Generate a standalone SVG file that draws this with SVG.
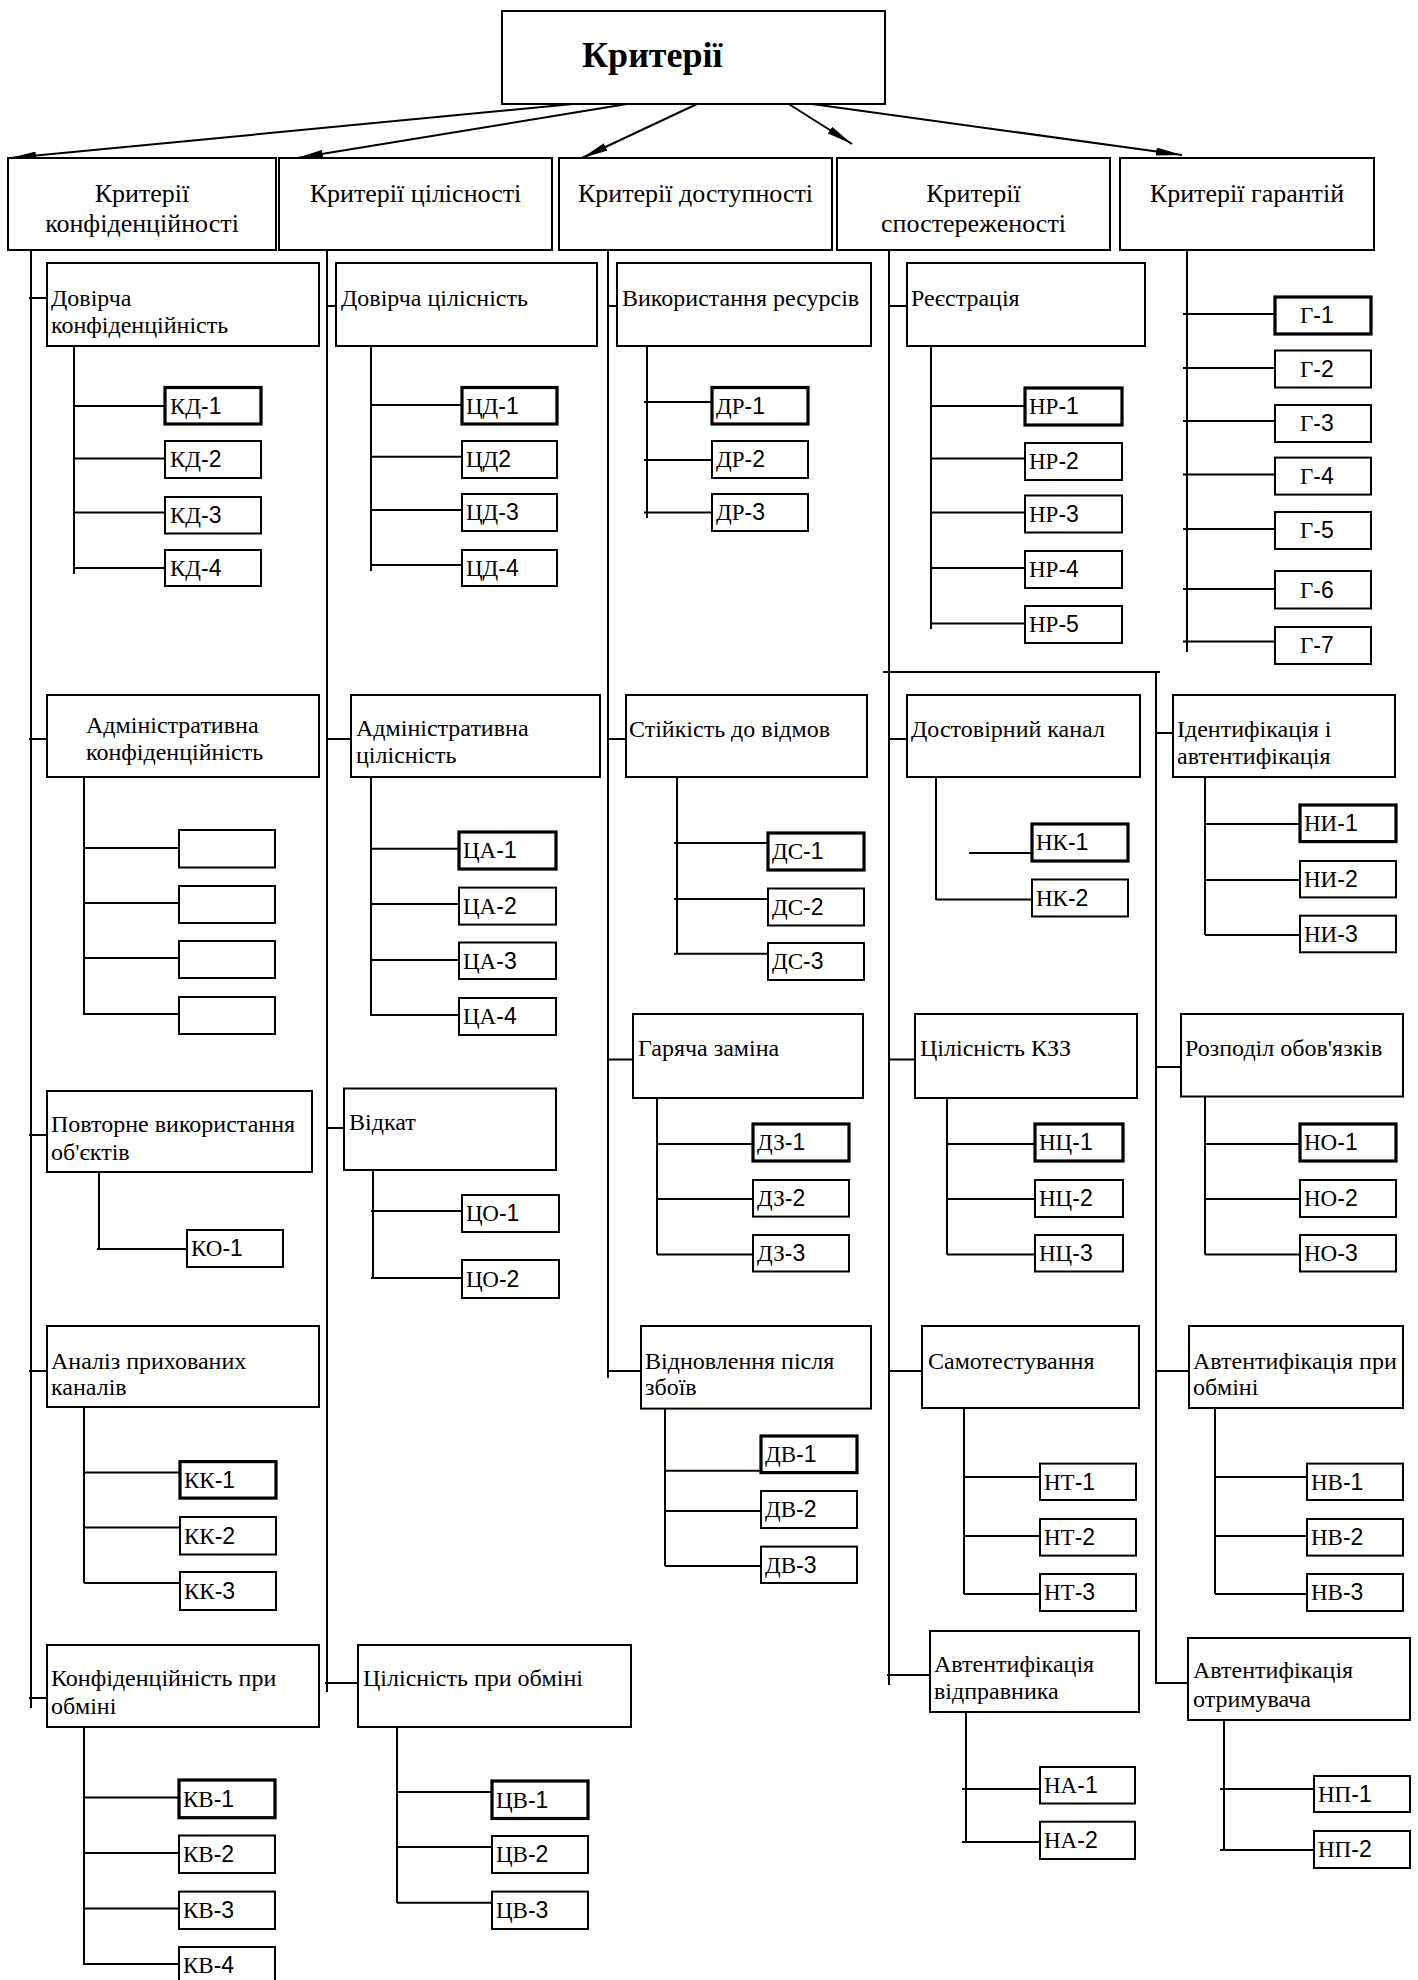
<svg xmlns="http://www.w3.org/2000/svg" width="1418" height="1980" viewBox="0 0 1418 1980">
<style>
rect{fill:#fff;stroke:#000;stroke-width:2}
rect.k{stroke-width:3.2}
#connectors line{stroke:#000;stroke-width:2}
text{fill:#000;font-family:"Liberation Serif","Times New Roman",serif}
.t0{font-size:36px;font-weight:bold}
.t1{font-size:26px;text-anchor:middle}
.t2{font-size:24px}
.lf{font-family:"Liberation Sans",Arial,sans-serif;font-size:23px}
.s{font-family:"Liberation Serif","Times New Roman",serif}
</style>
<defs>
<marker id="ah" viewBox="0 0 26 8" markerWidth="26" markerHeight="8" refX="26" refY="4" markerUnits="userSpaceOnUse" orient="auto"><path d="M0,0 L26,4 L0,8 z" fill="#000"/></marker>
</defs>
<rect x="0" y="0" width="1418" height="1980" style="fill:#fff;stroke:none"/>

<g id="connectors">
<line x1="573" y1="104" x2="10" y2="158" marker-end="url(#ah)"/>
<line x1="627" y1="104" x2="297" y2="158" marker-end="url(#ah)"/>
<line x1="697" y1="104" x2="582" y2="158" marker-end="url(#ah)"/>
<line x1="765" y1="89" x2="852" y2="144" marker-end="url(#ah)"/>
<line x1="812" y1="104" x2="1182" y2="155" marker-end="url(#ah)"/>
<!-- col1 -->
<line x1="31" y1="247" x2="31" y2="1708"/>
<line x1="29" y1="298" x2="53" y2="298"/>
<line x1="29" y1="739" x2="54" y2="739"/>
<line x1="29" y1="1135" x2="54" y2="1135"/>
<line x1="29" y1="1371" x2="54" y2="1371"/>
<line x1="29" y1="1698" x2="54" y2="1698"/>
<line x1="74" y1="343" x2="74" y2="574"/>
<line x1="74" y1="406" x2="168" y2="406"/>
<line x1="74" y1="458.5" x2="168" y2="458.5"/>
<line x1="74" y1="512.5" x2="168" y2="512.5"/>
<line x1="74" y1="568" x2="168" y2="568"/>
<line x1="84" y1="777" x2="84" y2="1015"/>
<line x1="84" y1="848" x2="182" y2="848"/>
<line x1="84" y1="903" x2="182" y2="903"/>
<line x1="84" y1="958" x2="182" y2="958"/>
<line x1="84" y1="1014" x2="182" y2="1014"/>
<line x1="99" y1="1172" x2="99" y2="1249"/>
<line x1="97" y1="1249" x2="190" y2="1249"/>
<line x1="84" y1="1407" x2="84" y2="1583"/>
<line x1="84" y1="1472.6" x2="183" y2="1472.6"/>
<line x1="84" y1="1527.6" x2="183" y2="1527.6"/>
<line x1="84" y1="1583" x2="183" y2="1583"/>
<line x1="84" y1="1727" x2="84" y2="1965"/>
<line x1="84" y1="1797.5" x2="182" y2="1797.5"/>
<line x1="84" y1="1853" x2="182" y2="1853"/>
<line x1="84" y1="1908.6" x2="182" y2="1908.6"/>
<line x1="84" y1="1964" x2="182" y2="1964"/>
<!-- col2 -->
<line x1="327" y1="247" x2="327" y2="1692"/>
<line x1="327" y1="306" x2="340" y2="306"/>
<line x1="327" y1="739" x2="358" y2="739"/>
<line x1="327" y1="1128" x2="348" y2="1128"/>
<line x1="325" y1="1683" x2="365" y2="1683"/>
<line x1="371" y1="343" x2="371" y2="571"/>
<line x1="371" y1="405" x2="465" y2="405"/>
<line x1="371" y1="456.7" x2="465" y2="456.7"/>
<line x1="371" y1="510" x2="465" y2="510"/>
<line x1="371" y1="565" x2="465" y2="565"/>
<line x1="371" y1="777" x2="371" y2="1016"/>
<line x1="371" y1="848.75" x2="462" y2="848.75"/>
<line x1="371" y1="904" x2="462" y2="904"/>
<line x1="371" y1="960" x2="462" y2="960"/>
<line x1="371" y1="1015" x2="462" y2="1015"/>
<line x1="373" y1="1170" x2="373" y2="1279"/>
<line x1="371" y1="1211" x2="465" y2="1211"/>
<line x1="371" y1="1278" x2="465" y2="1278"/>
<line x1="397" y1="1727" x2="397" y2="1903"/>
<line x1="397" y1="1792" x2="495" y2="1792"/>
<line x1="397" y1="1847" x2="495" y2="1847"/>
<line x1="397" y1="1902.7" x2="495" y2="1902.7"/>
<!-- col3 -->
<line x1="608" y1="247" x2="608" y2="1378"/>
<line x1="608" y1="306" x2="623" y2="306"/>
<line x1="608" y1="739" x2="633" y2="739"/>
<line x1="608" y1="1059.5" x2="639" y2="1059.5"/>
<line x1="608" y1="1371" x2="647" y2="1371"/>
<line x1="647" y1="343" x2="647" y2="518"/>
<line x1="644" y1="402" x2="715" y2="402"/>
<line x1="644" y1="460" x2="715" y2="460"/>
<line x1="644" y1="512.5" x2="715" y2="512.5"/>
<line x1="677" y1="777" x2="677" y2="954"/>
<line x1="674" y1="843" x2="771" y2="843"/>
<line x1="674" y1="899" x2="771" y2="899"/>
<line x1="674" y1="953.7" x2="771" y2="953.7"/>
<line x1="657" y1="1098" x2="657" y2="1254.5"/>
<line x1="657" y1="1144" x2="756" y2="1144"/>
<line x1="657" y1="1199" x2="756" y2="1199"/>
<line x1="657" y1="1254.5" x2="756" y2="1254.5"/>
<line x1="665" y1="1408" x2="665" y2="1566"/>
<line x1="665" y1="1470.7" x2="763" y2="1470.7"/>
<line x1="665" y1="1511" x2="763" y2="1511"/>
<line x1="665" y1="1566" x2="763" y2="1566"/>
<!-- col4 -->
<line x1="889" y1="247" x2="889" y2="1685"/>
<line x1="888" y1="306" x2="913" y2="306"/>
<line x1="889" y1="739" x2="914" y2="739"/>
<line x1="889" y1="1059.5" x2="922" y2="1059.5"/>
<line x1="888" y1="1371" x2="928" y2="1371"/>
<line x1="887" y1="1675" x2="936" y2="1675"/>
<line x1="931" y1="343" x2="931" y2="629"/>
<line x1="931" y1="406" x2="1027" y2="406"/>
<line x1="931" y1="458.5" x2="1027" y2="458.5"/>
<line x1="931" y1="512.5" x2="1027" y2="512.5"/>
<line x1="931" y1="568" x2="1027" y2="568"/>
<line x1="931" y1="623.6" x2="1027" y2="623.6"/>
<line x1="883" y1="672" x2="1160" y2="672"/>
<line x1="936" y1="777" x2="936" y2="900"/>
<line x1="936" y1="899.6" x2="1035" y2="899.6"/>
<line x1="969" y1="853" x2="1070" y2="853"/>
<line x1="947" y1="1098" x2="947" y2="1254.5"/>
<line x1="947" y1="1144" x2="1038" y2="1144"/>
<line x1="947" y1="1199" x2="1038" y2="1199"/>
<line x1="947" y1="1254.5" x2="1038" y2="1254.5"/>
<line x1="964" y1="1408" x2="964" y2="1594"/>
<line x1="964" y1="1477" x2="1043" y2="1477"/>
<line x1="964" y1="1536" x2="1043" y2="1536"/>
<line x1="964" y1="1594" x2="1043" y2="1594"/>
<line x1="966" y1="1712" x2="966" y2="1842"/>
<line x1="962" y1="1789" x2="1043" y2="1789"/>
<line x1="962" y1="1842" x2="1043" y2="1842"/>
<!-- col5 -->
<line x1="1187" y1="247" x2="1187" y2="652"/>
<line x1="1183" y1="314" x2="1279" y2="314"/>
<line x1="1183" y1="368" x2="1279" y2="368"/>
<line x1="1183" y1="421" x2="1279" y2="421"/>
<line x1="1183" y1="474.6" x2="1279" y2="474.6"/>
<line x1="1183" y1="529" x2="1279" y2="529"/>
<line x1="1183" y1="589" x2="1279" y2="589"/>
<line x1="1183" y1="641.5" x2="1279" y2="641.5"/>
<line x1="1156" y1="672" x2="1156" y2="1683"/>
<line x1="1155" y1="733" x2="1177" y2="733"/>
<line x1="1155" y1="1067" x2="1187" y2="1067"/>
<line x1="1155" y1="1371" x2="1195" y2="1371"/>
<line x1="1155" y1="1683" x2="1195" y2="1683"/>
<line x1="1205" y1="777" x2="1205" y2="935"/>
<line x1="1205" y1="824" x2="1303" y2="824"/>
<line x1="1205" y1="880" x2="1303" y2="880"/>
<line x1="1205" y1="935" x2="1303" y2="935"/>
<line x1="1205" y1="1096" x2="1205" y2="1254.5"/>
<line x1="1205" y1="1144" x2="1303" y2="1144"/>
<line x1="1205" y1="1199" x2="1303" y2="1199"/>
<line x1="1205" y1="1254.5" x2="1303" y2="1254.5"/>
<line x1="1215" y1="1408" x2="1215" y2="1594"/>
<line x1="1215" y1="1477" x2="1310" y2="1477"/>
<line x1="1215" y1="1536" x2="1310" y2="1536"/>
<line x1="1215" y1="1594" x2="1310" y2="1594"/>
<line x1="1224" y1="1720" x2="1224" y2="1850"/>
<line x1="1220" y1="1789" x2="1317" y2="1789"/>
<line x1="1220" y1="1850" x2="1317" y2="1850"/>
</g>

<g id="root"><rect x="502" y="11" width="383" height="93"/><text class="t0" x="582" y="67">Критерії</text></g>

<g id="c-conf"><rect x="8" y="158" width="268" height="92"/><text class="t1" x="142" y="202">Критерії</text><text class="t1" x="142" y="232">конфіденційності</text></g>
<g id="c-integ"><rect x="279" y="158" width="273" height="92"/><text class="t1" x="415.5" y="202">Критерії цілісності</text></g>
<g id="c-avail"><rect x="559" y="158" width="273" height="92"/><text class="t1" x="695.5" y="202">Критерії доступності</text></g>
<g id="c-obs"><rect x="837" y="158" width="273" height="92"/><text class="t1" x="973.5" y="202">Критерії</text><text class="t1" x="973.5" y="232">спостереженості</text></g>
<g id="c-guar"><rect x="1120" y="158" width="254" height="92"/><text class="t1" x="1247" y="202">Критерії гарантій</text></g>

<!-- column 1 -->
<g id="kd"><rect x="47" y="263" width="272" height="83"/><text class="t2" x="51" y="306">Довірча</text><text class="t2" x="51" y="333">конфіденційність</text></g>
<g id="kd-1"><rect class="k" x="165" y="387.5" width="96" height="36.5"/><text class="lf" x="170" y="413.5"><tspan class="s">КД</tspan>-1</text></g>
<g id="kd-2"><rect x="165" y="441" width="96" height="37"/><text class="lf" x="170" y="467"><tspan class="s">КД</tspan>-2</text></g>
<g id="kd-3"><rect x="165" y="497" width="96" height="36.5"/><text class="lf" x="170" y="523"><tspan class="s">КД</tspan>-3</text></g>
<g id="kd-4"><rect x="165" y="550" width="96" height="36"/><text class="lf" x="170" y="576"><tspan class="s">КД</tspan>-4</text></g>

<g id="ka"><rect x="47" y="695" width="272" height="82"/><text class="t2" x="86" y="733">Адміністративна</text><text class="t2" x="86" y="760">конфіденційність</text></g>
<g id="ka-1"><rect x="179" y="830" width="96" height="37.5"/></g>
<g id="ka-2"><rect x="179" y="886" width="96" height="37"/></g>
<g id="ka-3"><rect x="179" y="941" width="96" height="37"/></g>
<g id="ka-4"><rect x="179" y="997" width="96" height="37"/></g>

<g id="ko"><rect x="47" y="1091" width="265" height="81"/><text class="t2" x="51" y="1132">Повторне використання</text><text class="t2" x="51" y="1160">об'єктів</text></g>
<g id="ko-1"><rect x="187" y="1230" width="96" height="37"/><text class="lf" x="191" y="1256"><tspan class="s">КО</tspan>-1</text></g>

<g id="kk"><rect x="47" y="1326" width="272" height="81"/><text class="t2" x="51" y="1369">Аналіз прихованих</text><text class="t2" x="51" y="1395">каналів</text></g>
<g id="kk-1"><rect class="k" x="180" y="1461.6" width="96" height="36.5"/><text class="lf" x="184" y="1488"><tspan class="s">КК</tspan>-1</text></g>
<g id="kk-2"><rect x="180" y="1517" width="96" height="37.5"/><text class="lf" x="184" y="1543.5"><tspan class="s">КК</tspan>-2</text></g>
<g id="kk-3"><rect x="180" y="1572" width="96" height="38"/><text class="lf" x="184" y="1599"><tspan class="s">КК</tspan>-3</text></g>

<g id="kv"><rect x="47" y="1645" width="272" height="82"/><text class="t2" x="51" y="1686">Конфіденційність при</text><text class="t2" x="51" y="1714">обміні</text></g>
<g id="kv-1"><rect class="k" x="179" y="1780" width="96" height="37.7"/><text class="lf" x="183" y="1807"><tspan class="s">КВ</tspan>-1</text></g>
<g id="kv-2"><rect x="179" y="1835.5" width="96" height="37.5"/><text class="lf" x="183" y="1862"><tspan class="s">КВ</tspan>-2</text></g>
<g id="kv-3"><rect x="179" y="1891.6" width="96" height="37.4"/><text class="lf" x="183" y="1918"><tspan class="s">КВ</tspan>-3</text></g>
<g id="kv-4"><rect x="179" y="1947" width="96" height="40"/><text class="lf" x="183" y="1973"><tspan class="s">КВ</tspan>-4</text></g>

<!-- column 2 -->
<g id="cd"><rect x="336" y="263" width="261" height="83"/><text class="t2" x="341" y="306">Довірча цілісність</text></g>
<g id="cd-1"><rect class="k" x="462" y="387.5" width="95" height="36.5"/><text class="lf" x="466" y="413.5"><tspan class="s">ЦД</tspan>-1</text></g>
<g id="cd-2"><rect x="462" y="441" width="95" height="37"/><text class="lf" x="466" y="467"><tspan class="s">ЦД</tspan>2</text></g>
<g id="cd-3"><rect x="462" y="494" width="95" height="37"/><text class="lf" x="466" y="520"><tspan class="s">ЦД</tspan>-3</text></g>
<g id="cd-4"><rect x="462" y="550" width="95" height="36"/><text class="lf" x="466" y="576"><tspan class="s">ЦД</tspan>-4</text></g>

<g id="ca"><rect x="351" y="695" width="249" height="82"/><text class="t2" x="356" y="736">Адміністративна</text><text class="t2" x="356" y="763">цілісність</text></g>
<g id="ca-1"><rect class="k" x="459" y="832" width="97" height="37"/><text class="lf" x="463" y="858"><tspan class="s">ЦА</tspan>-1</text></g>
<g id="ca-2"><rect x="459" y="887.6" width="97" height="37"/><text class="lf" x="463" y="913.6"><tspan class="s">ЦА</tspan>-2</text></g>
<g id="ca-3"><rect x="459" y="942.5" width="97" height="36.5"/><text class="lf" x="463" y="968.5"><tspan class="s">ЦА</tspan>-3</text></g>
<g id="ca-4"><rect x="459" y="998" width="97" height="37"/><text class="lf" x="463" y="1024"><tspan class="s">ЦА</tspan>-4</text></g>

<g id="co"><rect x="344" y="1088.5" width="212" height="81.5"/><text class="t2" x="349" y="1130">Відкат</text></g>
<g id="co-1"><rect x="462" y="1195" width="97" height="37"/><text class="lf" x="466" y="1221"><tspan class="s">ЦО</tspan>-1</text></g>
<g id="co-2"><rect x="462" y="1260" width="97" height="38"/><text class="lf" x="466" y="1287"><tspan class="s">ЦО</tspan>-2</text></g>

<g id="cv"><rect x="358" y="1645" width="273" height="82"/><text class="t2" x="363" y="1686">Цілісність при обміні</text></g>
<g id="cv-1"><rect class="k" x="492" y="1781" width="96" height="37.5"/><text class="lf" x="496" y="1807.5"><tspan class="s">ЦВ</tspan>-1</text></g>
<g id="cv-2"><rect x="492" y="1836" width="96" height="37"/><text class="lf" x="496" y="1862"><tspan class="s">ЦВ</tspan>-2</text></g>
<g id="cv-3"><rect x="492" y="1891.6" width="96" height="37.4"/><text class="lf" x="496" y="1918"><tspan class="s">ЦВ</tspan>-3</text></g>

<!-- column 3 -->
<g id="dr"><rect x="617" y="263" width="254" height="83"/><text class="t2" x="622" y="306">Використання ресурсів</text></g>
<g id="dr-1"><rect class="k" x="712" y="387.5" width="96" height="36.5"/><text class="lf" x="716" y="413.5"><tspan class="s">ДР</tspan>-1</text></g>
<g id="dr-2"><rect x="712" y="441" width="96" height="37"/><text class="lf" x="716" y="467"><tspan class="s">ДР</tspan>-2</text></g>
<g id="dr-3"><rect x="712" y="494" width="96" height="37"/><text class="lf" x="716" y="520"><tspan class="s">ДР</tspan>-3</text></g>

<g id="ds"><rect x="626" y="695" width="241" height="82"/><text class="t2" x="629" y="737">Стійкість до відмов</text></g>
<g id="ds-1"><rect class="k" x="768" y="833" width="96" height="37"/><text class="lf" x="772" y="859"><tspan class="s">ДС</tspan>-1</text></g>
<g id="ds-2"><rect x="768" y="888.5" width="96" height="37"/><text class="lf" x="772" y="914.5"><tspan class="s">ДС</tspan>-2</text></g>
<g id="ds-3"><rect x="768" y="943" width="96" height="37"/><text class="lf" x="772" y="969"><tspan class="s">ДС</tspan>-3</text></g>

<g id="dz"><rect x="633" y="1014" width="230" height="84"/><text class="t2" x="638" y="1056">Гаряча заміна</text></g>
<g id="dz-1"><rect class="k" x="753" y="1124" width="96" height="37"/><text class="lf" x="757" y="1150"><tspan class="s">ДЗ</tspan>-1</text></g>
<g id="dz-2"><rect x="753" y="1180" width="96" height="36.6"/><text class="lf" x="757" y="1206"><tspan class="s">ДЗ</tspan>-2</text></g>
<g id="dz-3"><rect x="753" y="1235" width="96" height="36.5"/><text class="lf" x="757" y="1261"><tspan class="s">ДЗ</tspan>-3</text></g>

<g id="dv"><rect x="641" y="1326" width="230" height="82.6"/><text class="t2" x="645" y="1369">Відновлення після</text><text class="t2" x="645" y="1395">збоїв</text></g>
<g id="dv-1"><rect class="k" x="761" y="1436" width="96" height="36.6"/><text class="lf" x="765" y="1462"><tspan class="s">ДВ</tspan>-1</text></g>
<g id="dv-2"><rect x="761" y="1491" width="96" height="37"/><text class="lf" x="765" y="1517"><tspan class="s">ДВ</tspan>-2</text></g>
<g id="dv-3"><rect x="761" y="1546.6" width="96" height="36.4"/><text class="lf" x="765" y="1572.6"><tspan class="s">ДВ</tspan>-3</text></g>

<!-- column 4 -->
<g id="nr"><rect x="907" y="263" width="238" height="83"/><text class="t2" x="911" y="306">Реєстрація</text></g>
<g id="nr-1"><rect class="k" x="1025" y="388" width="97" height="37"/><text class="lf" x="1029" y="414"><tspan class="s">НР</tspan>-1</text></g>
<g id="nr-2"><rect x="1025" y="443" width="97" height="37"/><text class="lf" x="1029" y="469"><tspan class="s">НР</tspan>-2</text></g>
<g id="nr-3"><rect x="1025" y="495.5" width="97" height="37"/><text class="lf" x="1029" y="521.5"><tspan class="s">НР</tspan>-3</text></g>
<g id="nr-4"><rect x="1025" y="551" width="97" height="37"/><text class="lf" x="1029" y="577"><tspan class="s">НР</tspan>-4</text></g>
<g id="nr-5"><rect x="1025" y="606" width="97" height="37"/><text class="lf" x="1029" y="632"><tspan class="s">НР</tspan>-5</text></g>

<g id="nk"><rect x="907" y="695" width="233" height="82"/><text class="t2" x="911" y="737">Достовірний канал</text></g>
<g id="nk-1"><rect class="k" x="1032" y="824" width="96" height="37"/><text class="lf" x="1036" y="850"><tspan class="s">НК</tspan>-1</text></g>
<g id="nk-2"><rect x="1032" y="879.5" width="96" height="37"/><text class="lf" x="1036" y="905.5"><tspan class="s">НК</tspan>-2</text></g>

<g id="nc"><rect x="915" y="1014" width="222" height="84"/><text class="t2" x="920" y="1056">Цілісність КЗЗ</text></g>
<g id="nc-1"><rect class="k" x="1035" y="1124" width="88" height="37"/><text class="lf" x="1039" y="1150"><tspan class="s">НЦ</tspan>-1</text></g>
<g id="nc-2"><rect x="1035" y="1180" width="88" height="37"/><text class="lf" x="1039" y="1206"><tspan class="s">НЦ</tspan>-2</text></g>
<g id="nc-3"><rect x="1035" y="1235" width="88" height="36.5"/><text class="lf" x="1039" y="1261"><tspan class="s">НЦ</tspan>-3</text></g>

<g id="nt"><rect x="922" y="1326" width="217" height="82"/><text class="t2" x="928" y="1369">Самотестування</text></g>
<g id="nt-1"><rect x="1040" y="1463.6" width="96" height="36.4"/><text class="lf" x="1044" y="1489.6"><tspan class="s">НТ</tspan>-1</text></g>
<g id="nt-2"><rect x="1040" y="1519" width="96" height="36.6"/><text class="lf" x="1044" y="1545"><tspan class="s">НТ</tspan>-2</text></g>
<g id="nt-3"><rect x="1040" y="1574" width="96" height="37"/><text class="lf" x="1044" y="1600"><tspan class="s">НТ</tspan>-3</text></g>

<g id="na"><rect x="930" y="1631" width="209" height="81"/><text class="t2" x="934" y="1672">Автентифікація</text><text class="t2" x="934" y="1699">відправника</text></g>
<g id="na-1"><rect x="1040" y="1767" width="95" height="36.5"/><text class="lf" x="1044" y="1793"><tspan class="s">НА</tspan>-1</text></g>
<g id="na-2"><rect x="1040" y="1821.7" width="95" height="37.3"/><text class="lf" x="1044" y="1848"><tspan class="s">НА</tspan>-2</text></g>

<!-- column 5 -->
<g id="g-1"><rect class="k" x="1275" y="297" width="96" height="37"/><text class="lf" x="1300" y="323"><tspan class="s">Г</tspan>-1</text></g>
<g id="g-2"><rect x="1275" y="350.5" width="96" height="37"/><text class="lf" x="1300" y="376.5"><tspan class="s">Г</tspan>-2</text></g>
<g id="g-3"><rect x="1275" y="405" width="96" height="37"/><text class="lf" x="1300" y="431"><tspan class="s">Г</tspan>-3</text></g>
<g id="g-4"><rect x="1275" y="457.6" width="96" height="37"/><text class="lf" x="1300" y="483.6"><tspan class="s">Г</tspan>-4</text></g>
<g id="g-5"><rect x="1275" y="512" width="96" height="37"/><text class="lf" x="1300" y="538"><tspan class="s">Г</tspan>-5</text></g>
<g id="g-6"><rect x="1275" y="571" width="96" height="37.5"/><text class="lf" x="1300" y="597.5"><tspan class="s">Г</tspan>-6</text></g>
<g id="g-7"><rect x="1275" y="627" width="96" height="37"/><text class="lf" x="1300" y="653"><tspan class="s">Г</tspan>-7</text></g>

<g id="ni"><rect x="1173" y="695" width="222" height="82"/><text class="t2" x="1177" y="737">Ідентифікація і</text><text class="t2" x="1177" y="764">автентифікація</text></g>
<g id="ni-1"><rect class="k" x="1300" y="805" width="96" height="36.6"/><text class="lf" x="1304" y="831"><tspan class="s">НИ</tspan>-1</text></g>
<g id="ni-2"><rect x="1300" y="861" width="96" height="36.4"/><text class="lf" x="1304" y="887"><tspan class="s">НИ</tspan>-2</text></g>
<g id="ni-3"><rect x="1300" y="915.7" width="96" height="36.6"/><text class="lf" x="1304" y="941.7"><tspan class="s">НИ</tspan>-3</text></g>

<g id="no"><rect x="1181" y="1014" width="222" height="82.5"/><text class="t2" x="1185" y="1056">Розподіл обов'язків</text></g>
<g id="no-1"><rect class="k" x="1300" y="1124" width="96" height="37"/><text class="lf" x="1304" y="1150"><tspan class="s">НО</tspan>-1</text></g>
<g id="no-2"><rect x="1300" y="1180" width="96" height="37"/><text class="lf" x="1304" y="1206"><tspan class="s">НО</tspan>-2</text></g>
<g id="no-3"><rect x="1300" y="1235" width="96" height="36.5"/><text class="lf" x="1304" y="1261"><tspan class="s">НО</tspan>-3</text></g>

<g id="nv"><rect x="1189" y="1326" width="214" height="82"/><text class="t2" x="1193" y="1369">Автентифікація при</text><text class="t2" x="1193" y="1395">обміні</text></g>
<g id="nv-1"><rect x="1307" y="1463.6" width="96" height="36.4"/><text class="lf" x="1311" y="1489.6"><tspan class="s">НВ</tspan>-1</text></g>
<g id="nv-2"><rect x="1307" y="1519" width="96" height="36.6"/><text class="lf" x="1311" y="1545"><tspan class="s">НВ</tspan>-2</text></g>
<g id="nv-3"><rect x="1307" y="1574" width="96" height="37"/><text class="lf" x="1311" y="1600"><tspan class="s">НВ</tspan>-3</text></g>

<g id="np"><rect x="1188" y="1638" width="222" height="82"/><text class="t2" x="1193" y="1678">Автентифікація</text><text class="t2" x="1193" y="1707">отримувача</text></g>
<g id="np-1"><rect x="1314" y="1776" width="96" height="36"/><text class="lf" x="1318" y="1802"><tspan class="s">НП</tspan>-1</text></g>
<g id="np-2"><rect x="1314" y="1831" width="96" height="37"/><text class="lf" x="1318" y="1857"><tspan class="s">НП</tspan>-2</text></g>
</svg>
